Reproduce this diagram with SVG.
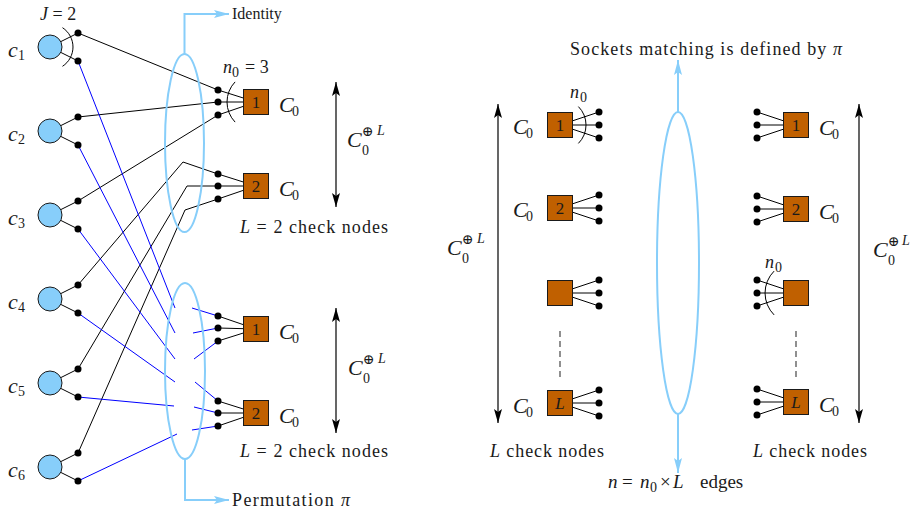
<svg xmlns="http://www.w3.org/2000/svg" width="914" height="509" viewBox="0 0 914 509">
<style>
text { font-family: "Liberation Serif", "DejaVu Serif", serif; fill: #1a1a1a; }
.it { font-style: italic; }
.v { fill: #87CEFA; stroke: #1a1a1a; stroke-width: 1; }
.dot { fill: #000; }
.stub { stroke: #000; stroke-width: 1; fill: none; }
.sq { fill: #C06000; stroke: #1a1a1a; stroke-width: 1; }
.blk { stroke: #000; stroke-width: 1; fill: none; }
.blu { stroke: #0000FF; stroke-width: 1; fill: none; }
.lb { stroke: #87CEFA; stroke-width: 2; fill: none; }
.arc { stroke: #000; stroke-width: 1; fill: none; }
.dash { stroke: #555; stroke-width: 1.3; stroke-dasharray: 6 4; fill: none; }
.num { font-size: 17px; text-anchor: middle; }
.big { font-size: 22px; }
.sub { font-size: 14px; }
.sup { font-size: 14px; }
.lbl { font-size: 18px; }
.dbl { stroke: #000; stroke-width: 1.2; fill: none; marker-start: url(#ak); marker-end: url(#ak); }
</style>
<defs>
<marker id="ak" viewBox="0 0 14 8" refX="14" refY="4" markerWidth="14" markerHeight="8" markerUnits="userSpaceOnUse" orient="auto-start-reverse"><path d="M0,0 L14,4 L0,8 L3,4 Z" fill="#000"/></marker>
<marker id="ab" viewBox="0 0 15 8" refX="15" refY="4" markerWidth="15" markerHeight="8" markerUnits="userSpaceOnUse" orient="auto"><path d="M0,0 L15,4 L0,8 L3,4 Z" fill="#87CEFA"/></marker>
</defs>
<rect width="914" height="509" fill="#fff"/>

<!-- connectors -->
<g id="connectors">
  <path class="blk" d="M78,33 L218,90"/>
  <path class="blk" d="M78,117 L218,102"/>
  <path class="blk" d="M78,201 L218,115"/>
  <path class="blk" d="M78,285 L183,162 L218,174"/>
  <path class="blk" d="M78,369 L187,186 L218,186"/>
  <path class="blk" d="M78,453 L185,210 L218,199"/>
  <path class="blu" d="M78,61 L175,308"/>
  <path class="blu" d="M78,145 L175,333"/>
  <path class="blu" d="M78,229 L175,359"/>
  <path class="blu" d="M78,313 L175,382"/>
  <path class="blu" d="M78,397 L174,406"/>
  <path class="blu" d="M78,481 L177,434"/>
  <path class="blu" d="M192,308 L218,316"/>
  <path class="blu" d="M193,333 L218,328"/>
  <path class="blu" d="M194,359 L218,341"/>
  <path class="blu" d="M195,382 L218,401"/>
  <path class="blu" d="M194,407 L218,413"/>
  <path class="blu" d="M192,430 L218,426"/>
</g>

<!-- ellipses (interleavers) -->
<g id="identity">
  <ellipse class="lb" cx="184.5" cy="143" rx="19.5" ry="89"/>
  <path class="lb" d="M184.5,54 L184.5,14 L229,14" marker-end="url(#ab)"/>
  <text x="232" y="19" style="font-size:16px">Identity</text>
</g>
<g id="permutation">
  <ellipse class="lb" cx="185" cy="371" rx="20" ry="88"/>
  <path class="lb" d="M185,459 L185,500 L229,500" marker-end="url(#ab)"/>
  <text class="lbl" x="232" y="506" textLength="118" lengthAdjust="spacing">Permutation <tspan class="it">π</tspan></text>
</g>

<!-- variable nodes -->
<g id="c1">
  <path class="stub" d="M50,47 L78,33 M50,47 L78,61"/>
  <circle class="v" cx="50" cy="47" r="12"/>
  <circle class="dot" cx="78" cy="33" r="3.5"/><circle class="dot" cx="78" cy="61" r="3.5"/>
  <text><tspan class="big it" x="8" y="57">c</tspan><tspan class="sub" x="18" y="60">1</tspan></text>
  <path class="arc" d="M62.5,27.7 A23,23 0 0 1 62.5,66.3"/>
  <text class="lbl" x="40" y="20"><tspan class="it">J</tspan> = 2</text>
</g>
<g id="c2">
  <path class="stub" d="M50,131 L78,117 M50,131 L78,145"/>
  <circle class="v" cx="50" cy="131" r="12"/>
  <circle class="dot" cx="78" cy="117" r="3.5"/><circle class="dot" cx="78" cy="145" r="3.5"/>
  <text><tspan class="big it" x="8" y="141">c</tspan><tspan class="sub" x="18" y="144">2</tspan></text>
</g>
<g id="c3">
  <path class="stub" d="M50,215 L78,201 M50,215 L78,229"/>
  <circle class="v" cx="50" cy="215" r="12"/>
  <circle class="dot" cx="78" cy="201" r="3.5"/><circle class="dot" cx="78" cy="229" r="3.5"/>
  <text><tspan class="big it" x="8" y="225">c</tspan><tspan class="sub" x="18" y="228">3</tspan></text>
</g>
<g id="c4">
  <path class="stub" d="M50,299 L78,285 M50,299 L78,313"/>
  <circle class="v" cx="50" cy="299" r="12"/>
  <circle class="dot" cx="78" cy="285" r="3.5"/><circle class="dot" cx="78" cy="313" r="3.5"/>
  <text><tspan class="big it" x="8" y="309">c</tspan><tspan class="sub" x="18" y="312">4</tspan></text>
</g>
<g id="c5">
  <path class="stub" d="M50,383 L78,369 M50,383 L78,397"/>
  <circle class="v" cx="50" cy="383" r="12"/>
  <circle class="dot" cx="78" cy="369" r="3.5"/><circle class="dot" cx="78" cy="397" r="3.5"/>
  <text><tspan class="big it" x="8" y="393">c</tspan><tspan class="sub" x="18" y="396">5</tspan></text>
</g>
<g id="c6">
  <path class="stub" d="M50,467 L78,453 M50,467 L78,481"/>
  <circle class="v" cx="50" cy="467" r="12"/>
  <circle class="dot" cx="78" cy="453" r="3.5"/><circle class="dot" cx="78" cy="481" r="3.5"/>
  <text><tspan class="big it" x="8" y="477">c</tspan><tspan class="sub" x="18" y="480">6</tspan></text>
</g>

<!-- left check nodes -->
<g id="chk-a1">
  <path class="stub" d="M218,90 L256,102 M218,102 L256,102 M218,115 L256,102"/>
  <rect class="sq" x="243.5" y="89.5" width="25" height="25"/>
  <text class="num" x="256" y="108">1</text>
  <circle class="dot" cx="218" cy="90" r="3.5"/><circle class="dot" cx="218" cy="102" r="3.5"/><circle class="dot" cx="218" cy="115" r="3.5"/>
  <path class="arc" d="M235.1,81.9 A29,29 0 0 0 235.1,122.1"/>
  <text class="lbl"><tspan class="it" x="223" y="73">n</tspan><tspan class="sub" x="232" y="77">0</tspan><tspan x="245" y="73">= 3</tspan></text>
  <text><tspan class="big it" x="279" y="112">C</tspan><tspan class="sub" x="292" y="116">0</tspan></text>
</g>
<g id="chk-a2">
  <path class="stub" d="M218,174 L256,186 M218,186 L256,186 M218,199 L256,186"/>
  <rect class="sq" x="243.5" y="173.5" width="25" height="25"/>
  <text class="num" x="256" y="192">2</text>
  <circle class="dot" cx="218" cy="174" r="3.5"/><circle class="dot" cx="218" cy="186" r="3.5"/><circle class="dot" cx="218" cy="199" r="3.5"/>
  <text><tspan class="big it" x="279" y="196">C</tspan><tspan class="sub" x="292" y="200">0</tspan></text>
</g>
<g id="sum-a">
  <path class="dbl" d="M336,82 L336,207"/>
  <text><tspan class="big it" x="347" y="147">C</tspan><tspan class="sub" x="362" y="155">0</tspan><tspan class="sup" x="362" y="136">⊕</tspan><tspan class="sup it" x="377" y="135">L</tspan></text>
  <text class="lbl" x="240" y="233" textLength="148" lengthAdjust="spacing"><tspan class="it">L</tspan> = 2 check nodes</text>
</g>
<g id="chk-b1">
  <path class="stub" d="M218,316 L256,329 M218,328 L256,329 M218,341 L256,329"/>
  <rect class="sq" x="243.5" y="316.5" width="25" height="25"/>
  <text class="num" x="256" y="335">1</text>
  <circle class="dot" cx="218" cy="316" r="3.5"/><circle class="dot" cx="218" cy="328" r="3.5"/><circle class="dot" cx="218" cy="341" r="3.5"/>
  <text><tspan class="big it" x="279" y="339">C</tspan><tspan class="sub" x="292" y="343">0</tspan></text>
</g>
<g id="chk-b2">
  <path class="stub" d="M218,401 L256,413 M218,413 L256,413 M218,426 L256,413"/>
  <rect class="sq" x="243.5" y="400.5" width="25" height="25"/>
  <text class="num" x="256" y="419">2</text>
  <circle class="dot" cx="218" cy="401" r="3.5"/><circle class="dot" cx="218" cy="413" r="3.5"/><circle class="dot" cx="218" cy="426" r="3.5"/>
  <text><tspan class="big it" x="279" y="423">C</tspan><tspan class="sub" x="292" y="427">0</tspan></text>
</g>
<g id="sum-b">
  <path class="dbl" d="M336,308 L336,433"/>
  <text><tspan class="big it" x="348" y="375">C</tspan><tspan class="sub" x="363" y="383">0</tspan><tspan class="sup" x="363" y="364">⊕</tspan><tspan class="sup it" x="378" y="363">L</tspan></text>
  <text class="lbl" x="240" y="457" textLength="148" lengthAdjust="spacing"><tspan class="it">L</tspan> = 2 check nodes</text>
</g>

<!-- right part: socket matching -->
<g id="matching">
  <ellipse class="lb" cx="678" cy="263" rx="21" ry="151"/>
  <path class="lb" d="M678,112 L678,60" marker-end="url(#ab)"/>
  <path class="lb" d="M678,414 L678,473" marker-end="url(#ab)"/>
  <text class="lbl" x="570" y="55" textLength="272" lengthAdjust="spacing">Sockets matching is defined by <tspan class="it">π</tspan></text>
  <text style="font-size:19px"><tspan class="it" x="608" y="488">n</tspan><tspan x="622" y="488">=</tspan><tspan class="it" x="640" y="488">n</tspan><tspan class="sub" x="650" y="492">0</tspan><tspan x="660" y="488">×</tspan><tspan class="it" x="673" y="488">L</tspan><tspan x="700" y="488">edges</tspan></text>
</g>

<g id="left-col">
  <path class="dbl" d="M498,104 L498,423"/>
  <text><tspan class="big it" x="447" y="255">C</tspan><tspan class="sub" x="462" y="263">0</tspan><tspan class="sup" x="462" y="244">⊕</tspan><tspan class="sup it" x="477" y="243">L</tspan></text>
  <text class="lbl" x="490" y="457" textLength="114" lengthAdjust="spacing"><tspan class="it">L</tspan> check nodes</text>
  <path class="dash" d="M560,331 L560,378"/>
</g>
<g id="r-l1">
  <path class="stub" d="M560,125 L599,112 M560,125 L599,125 M560,125 L599,138"/>
  <rect class="sq" x="547.5" y="112.5" width="25" height="25"/>
  <text class="num" x="560" y="131">1</text>
  <circle class="dot" cx="599" cy="112" r="3.5"/><circle class="dot" cx="599" cy="125" r="3.5"/><circle class="dot" cx="599" cy="138" r="3.5"/>
  <path class="arc" d="M578.4,106.6 A26,26 0 0 1 578.4,143.4"/>
  <text><tspan class="lbl it" x="570" y="98">n</tspan><tspan class="sub" x="580" y="102">0</tspan></text>
  <text><tspan class="big it" x="513" y="134">C</tspan><tspan class="sub" x="526" y="138">0</tspan></text>
</g>
<g id="r-l2">
  <path class="stub" d="M560,208 L599,195 M560,208 L599,208 M560,208 L599,221"/>
  <rect class="sq" x="547.5" y="195.5" width="25" height="25"/>
  <text class="num" x="560" y="214">2</text>
  <circle class="dot" cx="599" cy="195" r="3.5"/><circle class="dot" cx="599" cy="208" r="3.5"/><circle class="dot" cx="599" cy="221" r="3.5"/>
  <text><tspan class="big it" x="513" y="217">C</tspan><tspan class="sub" x="526" y="221">0</tspan></text>
</g>
<g id="r-l3">
  <path class="stub" d="M560,293 L599,280 M560,293 L599,293 M560,293 L599,306"/>
  <rect class="sq" x="547.5" y="280.5" width="25" height="25"/>
  <circle class="dot" cx="599" cy="280" r="3.5"/><circle class="dot" cx="599" cy="293" r="3.5"/><circle class="dot" cx="599" cy="306" r="3.5"/>
</g>
<g id="r-lL">
  <path class="stub" d="M560,403 L599,390 M560,403 L599,403 M560,403 L599,416"/>
  <rect class="sq" x="547.5" y="390.5" width="25" height="25"/>
  <text class="num it" x="560" y="409">L</text>
  <circle class="dot" cx="599" cy="390" r="3.5"/><circle class="dot" cx="599" cy="403" r="3.5"/><circle class="dot" cx="599" cy="416" r="3.5"/>
  <text><tspan class="big it" x="513" y="413">C</tspan><tspan class="sub" x="526" y="417">0</tspan></text>
</g>

<g id="right-col">
  <path class="dbl" d="M859,104 L859,423"/>
  <text><tspan class="big it" x="873" y="257">C</tspan><tspan class="sub" x="888" y="265">0</tspan><tspan class="sup" x="888" y="246">⊕</tspan><tspan class="sup it" x="902" y="245">L</tspan></text>
  <text class="lbl" x="753" y="457" textLength="114" lengthAdjust="spacing"><tspan class="it">L</tspan> check nodes</text>
  <path class="dash" d="M796,331 L796,378"/>
</g>
<g id="r-r1">
  <path class="stub" d="M796,125 L757,112 M796,125 L757,125 M796,125 L757,138"/>
  <rect class="sq" x="783.5" y="112.5" width="25" height="25"/>
  <text class="num" x="796" y="131">1</text>
  <circle class="dot" cx="757" cy="112" r="3.5"/><circle class="dot" cx="757" cy="125" r="3.5"/><circle class="dot" cx="757" cy="138" r="3.5"/>
  <text><tspan class="big it" x="819" y="135">C</tspan><tspan class="sub" x="832" y="139">0</tspan></text>
</g>
<g id="r-r2">
  <path class="stub" d="M796,209 L757,196 M796,209 L757,209 M796,209 L757,222"/>
  <rect class="sq" x="783.5" y="196.5" width="25" height="25"/>
  <text class="num" x="796" y="215">2</text>
  <circle class="dot" cx="757" cy="196" r="3.5"/><circle class="dot" cx="757" cy="209" r="3.5"/><circle class="dot" cx="757" cy="222" r="3.5"/>
  <text><tspan class="big it" x="819" y="219">C</tspan><tspan class="sub" x="832" y="223">0</tspan></text>
</g>
<g id="r-r3">
  <path class="stub" d="M796,293 L757,280 M796,293 L757,293 M796,293 L757,306"/>
  <rect class="sq" x="783.5" y="280.5" width="25" height="25"/>
  <circle class="dot" cx="757" cy="280" r="3.5"/><circle class="dot" cx="757" cy="293" r="3.5"/><circle class="dot" cx="757" cy="306" r="3.5"/>
  <path class="arc" d="M774.1,271.1 A31,31 0 0 0 774.1,314.9"/>
  <text><tspan class="lbl it" x="765" y="268">n</tspan><tspan class="sub" x="775" y="272">0</tspan></text>
</g>
<g id="r-rL">
  <path class="stub" d="M796,402 L757,389 M796,402 L757,402 M796,402 L757,415"/>
  <rect class="sq" x="783.5" y="389.5" width="25" height="25"/>
  <text class="num it" x="796" y="408">L</text>
  <circle class="dot" cx="757" cy="389" r="3.5"/><circle class="dot" cx="757" cy="402" r="3.5"/><circle class="dot" cx="757" cy="415" r="3.5"/>
  <text><tspan class="big it" x="819" y="412">C</tspan><tspan class="sub" x="832" y="416">0</tspan></text>
</g>
</svg>
